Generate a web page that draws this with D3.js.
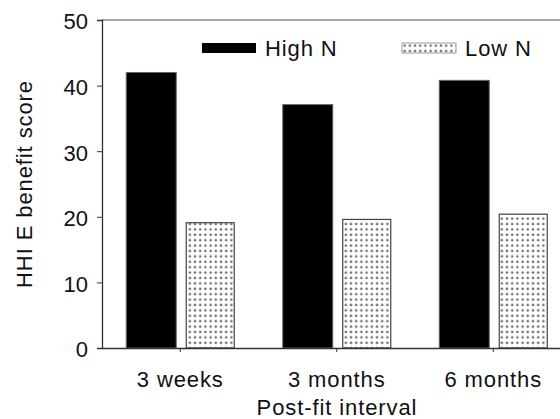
<!DOCTYPE html>
<html>
<head>
<meta charset="utf-8">
<script src="https://cdn.jsdelivr.net/npm/d3@7"></script>
<style>
  body { margin: 0; background: #fff; }
  text { font-family: "Liberation Sans", Arial, sans-serif; fill: #111; }
</style>
</head>
<body>
<div id="chart"></div>
<script>
// Chart data
var categories = ['3 weeks', '3 months', '6 months']
var seriesNames = ['High N', 'Low N']
var highN = [42, 37.1, 40.8]
var lowN = [19.1, 19.6, 20.4]
var yTicks = [0, 10, 20, 30, 40, 50]

var width = 560, height = 419
var margin = { left: 102, top: 20, bottom: 71 }
var fontSize = 22
var spacing = '0.9px'

var svg = d3.select('#chart')
  .append('svg')
  .attr('width', width)
  .attr('height', height)

// dotted fill for Low N
var defs = svg.append('defs')
var pat = defs.append('pattern')
  .attr('id', 'dots')
  .attr('patternUnits', 'userSpaceOnUse')
  .attr('width', 5.2)
  .attr('height', 5.4)
pat.append('rect').attr('width', 6).attr('height', 6).attr('fill', '#fff')
pat.append('path')
  .attr('d', 'M1.2,2.6 L2.6,1.2 L4,2.6 L2.6,4 Z')
  .attr('fill', '#6e6e6e')
pat.append('rect')
  .attr('x', 1.6).attr('y', 1.6)
  .attr('width', 2).attr('height', 2)
  .attr('fill', '#6e6e6e')

var x = d3.scaleBand()
  .domain(categories)
  .range([margin.left, margin.left + 3 * 156.5])

var y = d3.scaleLinear()
  .domain([0, 50])
  .range([height - margin.bottom, margin.top])

var data = categories.map((c, i) => ({ cat: c, high: highN[i], low: lowN[i] }))

// top frame line
svg.append('line')
  .attr('x1', margin.left).attr('x2', width)
  .attr('y1', y(50)).attr('y2', y(50))
  .attr('stroke', '#888').attr('stroke-width', 1.5)

// bars
var barW = 50
svg.selectAll('rect.high')
  .data(data)
  .enter()
  .append('rect')
    .attr('class', 'high')
    .attr('x', d => x(d.cat) + x.bandwidth() / 2 - 4 - barW)
    .attr('y', d => y(d.high))
    .attr('width', barW)
    .attr('height', d => y(0) - y(d.high))
    .attr('fill', '#000')
    .attr('stroke', '#666')
    .attr('stroke-width', 1)

svg.selectAll('rect.low')
  .data(data)
  .enter()
  .append('rect')
    .attr('class', 'low')
    .attr('x', d => x(d.cat) + x.bandwidth() / 2 + 6)
    .attr('y', d => y(d.low))
    .attr('width', barW - 2)
    .attr('height', d => y(0) - y(d.low))
    .attr('fill', 'url(#dots)')
    .attr('stroke', '#444')
    .attr('stroke-width', 1.2)

// axes
var yAxis = svg.append('g')
  .attr('transform', `translate(${margin.left},0)`)
  .call(d3.axisLeft(y).tickValues(yTicks).tickSize(5).tickPadding(9))
yAxis.select('.domain').attr('stroke', '#333').attr('stroke-width', 1.3)
yAxis.selectAll('.tick line').attr('stroke', '#333')
yAxis.selectAll('text')
  .attr('font-size', fontSize)
  .attr('dy', '0.4em')

var xAxis = svg.append('g')
  .attr('transform', `translate(0,${y(0)})`)
  .call(d3.axisBottom(x).tickSize(4).tickPadding(22).tickSizeOuter(0))
xAxis.select('.domain').attr('stroke', '#333').attr('stroke-width', 1.3)
xAxis.selectAll('.tick line').attr('stroke', '#333')
xAxis.selectAll('text')
  .attr('font-size', fontSize)
  .attr('letter-spacing', spacing)
  .attr('dy', '0em')
  .attr('y', 39)

svg.selectAll('text').attr('fill', '#111')

// axis titles
svg.append('text')
  .attr('x', 337)
  .attr('y', 415)
  .attr('text-anchor', 'middle')
  .attr('font-size', fontSize)
  .attr('letter-spacing', spacing)
  .text('Post-fit interval')

svg.append('text')
  .attr('transform', 'translate(32,184) rotate(-90)')
  .attr('text-anchor', 'middle')
  .attr('font-size', fontSize)
  .attr('letter-spacing', spacing)
  .text('HHI E benefit score')

// legend
var legend = svg.selectAll('g.legend')
  .data(seriesNames)
  .enter()
  .append('g')
    .attr('class', 'legend')
    .attr('transform', (d, i) => `translate(${202 + i * 200},43)`)
legend.append('rect')
  .attr('width', 54)
  .attr('height', 10)
  .attr('fill', (d, i) => i === 0 ? '#000' : 'url(#dots)')
  .attr('stroke', (d, i) => i === 0 ? 'none' : '#999')
legend.append('text')
  .attr('x', 63)
  .attr('y', 13)
  .attr('font-size', fontSize)
  .attr('letter-spacing', spacing)
  .text(d => d)
</script>
</body>
</html>
